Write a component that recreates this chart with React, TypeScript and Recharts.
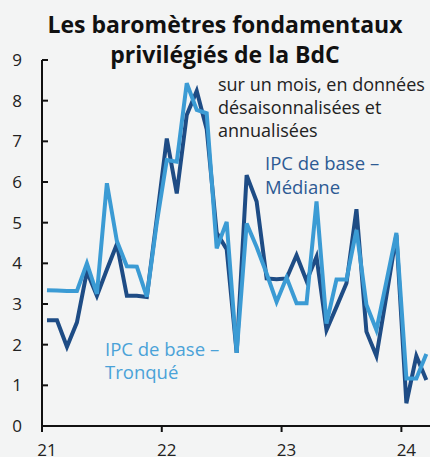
import React from "react";
import { LineChart, Line, XAxis, YAxis } from "recharts";

// Monthly data, Jan 2021 – Mar 2024 (% , monthly annualized, s.a.)
const years = [2021, 2022, 2023, 2024];
const months = [1, 2, 3, 4, 5, 6, 7, 8, 9, 10, 11, 12];
const mediane = [
  2.6, 2.6, 1.95, 2.55, 3.8, 3.2, 3.85, 4.47, 3.2, 3.2, 3.17, 5.1,
  7.07, 5.72, 7.65, 8.24, 7.3, 4.75, 4.35, 1.8, 6.17, 5.52, 3.63, 3.61,
  3.63, 4.2, 3.57, 4.16, 2.36, 2.93, 3.51, 5.33, 2.32, 1.72, 3.2, 4.7,
  0.56, 1.72, 1.13,
];
const tronque = [
  3.34, 3.33, 3.32, 3.32, 4.0, 3.25, 5.97, 4.55, 3.93, 3.92, 3.18, 5.0,
  6.54, 6.5, 8.43, 7.77, 7.69, 4.37, 5.02, 1.8, 4.98, 4.4, 3.75, 3.05,
  3.65, 3.02, 3.02, 5.52, 2.52, 3.6, 3.6, 4.82, 2.98, 2.36, 3.55, 4.75,
  1.17, 1.17, 1.77,
];
const yTicks = [0, 1, 2, 3, 4, 5, 6, 7, 8, 9];
const xTicks = [2021, 2022, 2023, 2024];
const xTickLabels = ["21", "22", "23", "24"];

const titleLines = ["Les baromètres fondamentaux", "privilégiés de la BdC"];
const subtitleLines = ["sur un mois, en données", "désaisonnalisées et", "annualisées"];
const medianeLabel = ["IPC de base –", "Médiane"];
const tronqueLabel = ["IPC de base –", "Tronqué"];

const data = mediane.map((m, i) => {
  const y = years[0] + Math.floor(i / 12);
  const mo = months[i % 12];
  return { t: y + (mo - 0.5) / 12, mediane: m, tronque: tronque[i] };
});

const FONT = "'Open Sans', Lato, sans-serif";
const DARK = "#1e4c85";
const LIGHT = "#3b9bd4";

const YTick = (props: any) => {
  const { x, y, payload } = props;
  return (
    <g>
      <line x1={x} x2={x + 6} y1={y} y2={y} stroke="#111" strokeWidth={2} />
      <text x={x - 20} y={y} dy="0.36em" textAnchor="end" fontSize={17} fill="#222" fontFamily={FONT}>
        {payload.value}
      </text>
    </g>
  );
};

const XTick = (props: any) => {
  const { x, y, payload } = props;
  const idx = xTicks.indexOf(payload.value);
  return (
    <g>
      <line x1={x} x2={x} y1={y} y2={y + 6} stroke="#111" strokeWidth={2} />
      <text x={x + 5} y={y + 30} textAnchor="middle" fontSize={17} fill="#222" fontFamily={FONT}>
        {xTickLabels[idx]}
      </text>
    </g>
  );
};

export default function App() {
  return (
    <div style={{ position: "absolute", left: 0, top: 0, width: 430, height: 457, background: "#f3f4f4", overflow: "hidden" }}>
      <LineChart width={430} height={457} data={data} margin={{ top: 60, right: 0, bottom: 1, left: 0 }}>
        <XAxis
          dataKey="t"
          type="number"
          domain={[2021, 2024.239]}
          allowDataOverflow
          ticks={xTicks}
          tickSize={0}
          tickMargin={0}
          tickLine={false}
          tick={<XTick />}
          height={30}
          axisLine={{ stroke: "#111", strokeWidth: 2 }}
        />
        <YAxis
          type="number"
          domain={[0, 9]}
          ticks={yTicks}
          tickSize={0}
          tickMargin={0}
          tickLine={false}
          tick={<YTick />}
          width={42}
          axisLine={{ stroke: "#111", strokeWidth: 2 }}
        />
        <Line dataKey="mediane" stroke={DARK} strokeWidth={4} dot={false} isAnimationActive={false} />
        <Line dataKey="tronque" stroke={LIGHT} strokeWidth={4} dot={false} isAnimationActive={false} />
      </LineChart>
      <svg width={430} height={457} style={{ position: "absolute", left: 0, top: 0, pointerEvents: "none" }}>
        {titleLines.map((s, i) => (
          <text key={s} x={225} y={33 + i * 30} textAnchor="middle" fontSize={23} fontWeight={700} fill="#111" fontFamily={FONT}>
            {s}
          </text>
        ))}
        {subtitleLines.map((s, i) => (
          <text key={s} x={218} y={91 + i * 23} fontSize={18} fill="#222" fontFamily={FONT}>
            {s}
          </text>
        ))}
        {medianeLabel.map((s, i) => (
          <text key={s} x={265} y={170 + i * 24} fontSize={18.5} fill="#2d5a93" fontFamily={FONT}>
            {s}
          </text>
        ))}
        {tronqueLabel.map((s, i) => (
          <text key={s} x={105} y={356 + i * 23} fontSize={18.5} fill="#4aa2d8" fontFamily={FONT}>
            {s}
          </text>
        ))}
      </svg>
    </div>
  );
}
